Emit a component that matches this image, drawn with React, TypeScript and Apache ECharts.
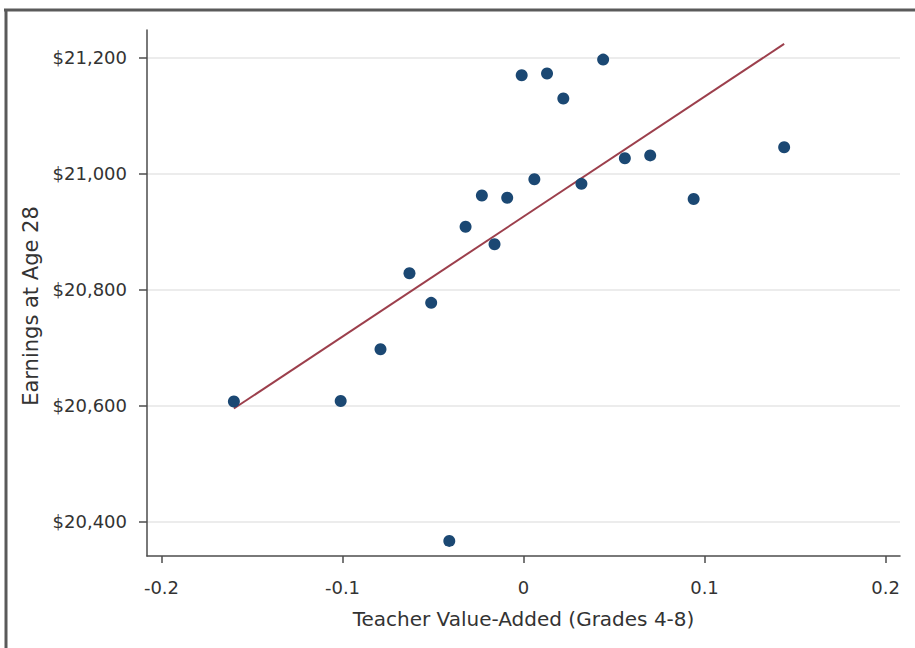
import React, { useEffect, useRef } from 'react';
import * as echarts from 'echarts';

// Binned scatter: teacher value-added vs. earnings at age 28
const teacherVA = [-0.16, -0.101, -0.079, -0.063, -0.051, -0.041, -0.032, -0.023, -0.016, -0.009, -0.001, 0.006, 0.013, 0.022, 0.032, 0.044, 0.056, 0.07, 0.094, 0.144];
const earnings = [20607, 20608, 20697, 20828, 20777, 20367, 20908, 20962, 20878, 20958, 21169, 20990, 21172, 21129, 20982, 21196, 21026, 21031, 20956, 21045];
// Fitted regression line endpoints
const fitX = [-0.16, 0.144];
const fitY = [20595, 21223];
// Tick values
const xTicks = [-0.2, -0.1, 0, 0.1, 0.2];
const yTicks = [20400, 20600, 20800, 21000, 21200];

const FONT = 'DejaVu Sans';

export default function App() {
  const ref = useRef<HTMLDivElement>(null);

  useEffect(() => {
    if (!ref.current) return;
    const chart = echarts.init(ref.current, null, { renderer: 'svg' });
    const points = teacherVA.map((x, i) => [x, earnings[i]]);
    const fit = fitX.map((x, i) => [x, fitY[i]]);

    chart.setOption({
      animation: false,
      backgroundColor: '#ffffff',
      grid: { left: 147, right: 15, top: 30, bottom: 92, containLabel: false },
      xAxis: {
        type: 'value',
        min: -0.208,
        max: 0.208,
        name: 'Teacher Value-Added (Grades 4-8)',
        nameLocation: 'middle',
        nameGap: 53,
        nameTextStyle: { fontFamily: FONT, fontSize: 20, color: '#333333' },
        axisLine: { show: true, onZero: false, lineStyle: { color: '#4d4d4d', width: 1.5 } },
        axisTick: { show: true, length: 7, customValues: xTicks, lineStyle: { color: '#4d4d4d', width: 1.5 } },
        axisLabel: {
          customValues: xTicks,
          margin: 22,
          fontFamily: FONT,
          fontSize: 18,
          color: '#333333',
          formatter: (v: number) => String(Math.round(v * 10) / 10),
        },
        splitLine: { show: false },
      },
      yAxis: {
        type: 'value',
        min: 20341,
        max: 21247,
        name: 'Earnings at Age 28',
        nameLocation: 'middle',
        nameGap: 93,
        nameTextStyle: { fontFamily: FONT, fontSize: 21, color: '#333333', padding: [0, 26, 0, 0] },
        axisLine: { show: true, onZero: false, lineStyle: { color: '#4d4d4d', width: 1.5 } },
        axisTick: { show: true, length: 8, customValues: yTicks, lineStyle: { color: '#4d4d4d', width: 1.5 } },
        axisLabel: {
          customValues: yTicks,
          margin: 20,
          fontFamily: FONT,
          fontSize: 18,
          color: '#333333',
          formatter: (v: number) => '$' + Math.round(v).toLocaleString('en-US'),
        },
        splitLine: { show: false },
      },
      graphic: [
        { type: 'line', silent: true, shape: { x1: 4, y1: 10, x2: 915, y2: 10 }, style: { stroke: '#5a5a5a', lineWidth: 3 } },
        { type: 'line', silent: true, shape: { x1: 6, y1: 9, x2: 6, y2: 648 }, style: { stroke: '#5a5a5a', lineWidth: 3 } },
      ],
      series: [
        {
          name: 'grid',
          type: 'scatter',
          data: [],
          z: 0,
          silent: true,
          markLine: {
            z: 0,
            silent: true,
            symbol: ['none', 'none'],
            label: { show: false },
            emphasis: { disabled: true },
            lineStyle: { color: '#ececec', width: 2, type: 'solid' },
            data: yTicks.map((v) => ({ yAxis: v })),
          },
        },
        {
          name: 'fit',
          type: 'line',
          data: fit,
          z: 10,
          symbol: 'none',
          lineStyle: { color: '#9c3f4c', width: 2 },
        },
        {
          name: 'bins',
          type: 'scatter',
          data: points,
          z: 11,
          symbol: 'circle',
          symbolSize: 12,
          itemStyle: { color: '#1b4873', opacity: 1 },
        },
      ],
    });

    return () => chart.dispose();
  }, []);

  return (
    <div
      ref={ref}
      style={{ position: 'fixed', left: 0, top: 0, width: 915, height: 648, background: '#ffffff' }}
    />
  );
}
